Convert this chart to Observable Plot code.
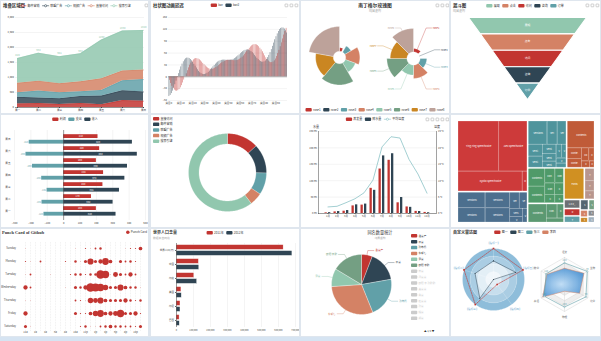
<!DOCTYPE html>
<html><head><meta charset="utf-8">
<script src="https://cdn.jsdelivr.net/npm/d3@7"></script>
<script src="https://cdn.jsdelivr.net/npm/@observablehq/plot@0.6"></script>
<style>
html,body{margin:0;padding:0}
body{width:601px;height:341px;background:#dfe6ee;position:relative;overflow:hidden;font-family:"Noto Sans CJK SC","Noto Sans",sans-serif}
.pn{position:absolute;background:#fff;overflow:hidden}
.pn svg{position:absolute;overflow:visible}
</style></head><body>
<script>
// ---------------- palette ----------------
const P = {red:"#c23531", navy:"#2f4554", teal:"#61a0a8", salmon:"#d48265", mint:"#91c7ae", green:"#749f83", mustard:"#ca8622", taupe:"#bda29a", gray:"#6e7074", slate:"#546570", light:"#c4ccd3"};
const FONT = "'Noto Sans CJK SC','Noto Sans',sans-serif";
const STYLE = {fontSize:"3px", fontFamily:FONT, color:"#444", background:"transparent", overflow:"visible"};

// ---------------- data ----------------
// 1 stacked area
const c1Days = ["周一","周二","周三","周四","周五","周六","周日"];
const c1Series = ["邮件营销","联盟广告","视频广告","直接访问","搜索引擎"];
const c1Mail = [120,132,101,134,90,230,210];
const c1Union = [220,182,191,234,290,330,310];
const c1Video = [150,232,201,154,190,330,410];
const c1Direct = [320,332,301,334,390,330,320];
const c1Search = [820,932,901,934,1290,1330,1320];
const c1YTicks = [0,500,1000,1500,2000,2500,3000];

// 2 bar animation delay
const c2Series = ["bar","bar2"];
const c2Bar = [0,-8.9,-17.0,-24.0,-29.7,-33.7,-36.0,-36.5,-35.3,-32.4,-28.0,-22.4,-15.7,-8.2,-0.4,7.6,15.3,22.6,29.2,34.8,39.4,42.8,45.0,46.0,45.9,44.8,42.9,40.3,37.2,33.9,30.6,27.4,24.6,22.2,20.4,19.3,18.9,19.2,20.1,21.5,23.4,25.7,28.2,30.7,33.2,35.4,37.4,39.1,40.3,41.2,41.7,41.8,41.7,41.4,41.1,40.8,40.8,41.1,41.8,42.9,44.6,46.9,49.7,52.9,56.6,60.5,64.5,68.4,72.1,75.4,78.1,80.1,81.2,81.4,80.5,78.8,76.0,72.4,68.1,63.3,58.0,52.9,47.9,43.5,39.9,37.2,35.8,35.9,37.3,40.4,45.0,51.2,58.5,66.9,76.1,85.9,95.8,105.6,114.5,122.5];
const c2Bar2 = [-50,-47.2,-42.5,-36.3,-28.7,-20.1,-10.9,-1.5,7.9,16.8,25.0,32.1,38.0,42.5,45.6,47.2,47.3,46.1,43.7,40.4,36.3,31.7,26.9,22.2,17.7,13.7,10.4,7.9,6.3,5.6,5.8,6.9,8.8,11.3,14.4,17.9,21.5,25.1,28.7,31.9,34.8,37.2,39.2,40.6,41.5,42.1,42.2,42.2,42.0,41.8,41.7,41.8,42.2,43.0,44.2,45.9,47.9,50.3,52.9,55.6,58.4,61.1,63.5,65.5,67.0,67.8,67.9,67.3,65.9,63.8,61.1,57.9,54.2,50.5,46.8,43.5,40.6,38.5,37.2,36.9,37.9,40.2,43.7,48.4,54.2,61.2,68.8,77.0,85.3,93.7,101.4,108.6,114.6,119.2,122.3,123.7,123.2,120.8,116.7,110.8];
const c2Cats = c2Bar.map((_, i) => "类目" + i);
const c2YTicks = [-60,-30,0,30,60,90,120,150];
const c2XTicks = ["类目0","类目10","类目20","类目30","类目40","类目50","类目60","类目70","类目80","类目90"];

// 3 nightingale rose
const c3Names = ["rose1","rose2","rose3","rose4","rose5","rose6","rose7","rose8"];
const c3Values = [10,5,15,25,20,35,30,40];

// 4 funnel
const c4Names = ["展现","点击","访问","咨询","订单"];
const c4Values = [100,80,60,40,20];

// 5 positive/negative bars
const c5Days = ["周一","周二","周三","周四","周五","周六","周日"];
const c5Profit = [200,170,240,244,200,220,210];
const c5Income = [320,302,341,374,390,450,420];
const c5Expense = [-120,-132,-101,-134,-190,-230,-210];
const c5XTicks = [-300,-200,-100,0,100,200,300,400,500];

// 6 donut
const c6Names = ["直接访问","邮件营销","联盟广告","视频广告","搜索引擎"];
const c6Values = [335,310,234,135,1548];

// 7 rain / evaporation / temperature
const c7Months = ["1月","2月","3月","4月","5月","6月","7月","8月","9月","10月","11月","12月"];
const c7Evap = [2.0,4.9,7.0,23.2,25.6,76.7,135.6,162.2,32.6,20.0,6.4,3.3];
const c7Rain = [2.6,5.9,9.0,26.4,28.7,70.7,175.6,182.2,48.7,18.8,6.0,2.3];
const c7Temp = [2.0,2.2,3.3,4.5,6.3,10.2,20.3,23.4,23.0,16.5,12.0,6.2];
const c7YTicks = [0,50,100,150,200,250];

// 8 treemap (group, label, size)
const c8Group = ["A","A","A","A","B","B","B","B","B","B","B","B","B","C","C","C","C","C","C","C","C","C","C","C","C","D","D","D","D","D","D","D","E","E","E","E","E","E","E","E","F","F","F","F","G","H","H","H","I","J","K","L","M","N","O","P","Q"];
const c8Label = ["Ting-Ting SpeechVoice","Alex SpeechVoice","Kyoko SpeechVoice","Other","Versions","Versions","Versions","Versions","Versions","Versions","Versions","V","V","Versions","Versions","Versions","Versions","Versions","Versions","Versions","Versions","Versions","V","V","V","Contents","Contents","Contents","Contents","C","C","C","Contents","Contents","Contents","Contents","Contents","C","C","C","Contents","Contents","C","C","Fonts","T","T","T","1.8.0_Home","R","T","s","s","s","s","s","s"];
const c8Size = [1920,1340,1200,90,400,380,360,340,150,120,100,70,60,420,230,200,160,150,120,100,80,70,60,50,40,700,150,120,90,70,50,30,280,260,140,120,110,100,80,70,330,150,90,70,575,120,100,80,132,108,100,80,60,50,40,40,40];
const c8Groups = ["A","B","C","D","E","F","G","H","I","J","K","L","M","N","O","P","Q"];
const c8Colors = ["#cd3a3a","#4c6f8e","#4f949c","#c05b38","#4f9a69","#5b9972","#d09022","#b8968e","#6e7074","#c23531","#61a0a8","#546570","#749f83","#d48265","#ca8622","#8a8c90","#9fb0bd"];

// 9 punch card
const c9Hours = ["12a","1a","2a","3a","4a","5a","6a","7a","8a","9a","10a","11a","12p","1p","2p","3p","4p","5p","6p","7p","8p","9p","10p","11p"];
const c9Days = ["Saturday","Friday","Thursday","Wednesday","Tuesday","Monday","Sunday"];
const c9Data = [[0,0,5],[0,1,1],[0,2,0],[0,3,0],[0,4,0],[0,5,0],[0,6,0],[0,7,0],[0,8,0],[0,9,0],[0,10,0],[0,11,2],[0,12,4],[0,13,1],[0,14,1],[0,15,3],[0,16,4],[0,17,6],[0,18,4],[0,19,4],[0,20,3],[0,21,3],[0,22,2],[0,23,5],[1,0,7],[1,1,0],[1,2,0],[1,3,0],[1,4,0],[1,5,0],[1,6,0],[1,7,0],[1,8,0],[1,9,0],[1,10,5],[1,11,2],[1,12,2],[1,13,6],[1,14,9],[1,15,11],[1,16,6],[1,17,7],[1,18,8],[1,19,12],[1,20,5],[1,21,5],[1,22,7],[1,23,2],[2,0,1],[2,1,1],[2,2,0],[2,3,0],[2,4,0],[2,5,0],[2,6,0],[2,7,0],[2,8,0],[2,9,0],[2,10,3],[2,11,2],[2,12,1],[2,13,9],[2,14,8],[2,15,10],[2,16,6],[2,17,5],[2,18,5],[2,19,5],[2,20,7],[2,21,4],[2,22,2],[2,23,4],[3,0,7],[3,1,3],[3,2,0],[3,3,0],[3,4,0],[3,5,0],[3,6,0],[3,7,0],[3,8,1],[3,9,0],[3,10,5],[3,11,4],[3,12,7],[3,13,14],[3,14,13],[3,15,12],[3,16,9],[3,17,5],[3,18,5],[3,19,10],[3,20,6],[3,21,4],[3,22,4],[3,23,1],[4,0,1],[4,1,3],[4,2,0],[4,3,0],[4,4,0],[4,5,1],[4,6,0],[4,7,0],[4,8,0],[4,9,2],[4,10,4],[4,11,4],[4,12,2],[4,13,4],[4,14,4],[4,15,14],[4,16,12],[4,17,1],[4,18,8],[4,19,5],[4,20,3],[4,21,7],[4,22,3],[4,23,0],[5,0,2],[5,1,1],[5,2,0],[5,3,3],[5,4,0],[5,5,0],[5,6,0],[5,7,0],[5,8,2],[5,9,0],[5,10,4],[5,11,1],[5,12,5],[5,13,10],[5,14,5],[5,15,7],[5,16,11],[5,17,6],[5,18,0],[5,19,5],[5,20,3],[5,21,4],[5,22,2],[5,23,0],[6,0,1],[6,1,0],[6,2,0],[6,3,0],[6,4,0],[6,5,0],[6,6,0],[6,7,0],[6,8,0],[6,9,0],[6,10,1],[6,11,0],[6,12,2],[6,13,1],[6,14,3],[6,15,4],[6,16,0],[6,17,0],[6,18,0],[6,19,0],[6,20,1],[6,21,2],[6,22,2],[6,23,6]];
const c9XTicks = ["12a","2a","4a","6a","8a","10a","12p","2p","4p","6p","8p","10p"];

// 10 world population
const c10Cats = ["巴西","印尼","美国","印度","中国","世界人口(万)"];
const c10Y2011 = [18203,23489,29034,104970,131744,630230];
const c10Y2012 = [19325,23438,31000,121594,134141,681807];
const c10XTicks = [0,100000,200000,300000,400000,500000,600000,700000];

// 11 pie with scroll legend
const c11Names = ["潘某产","平某","孙布托","东郭七","尹某","欧阳 宇鹏","苏某","冯某某","欧阳 宇 孙鹏鹏","黄某某","鲁某","赵某某","孙某","殷某","郑某"];
const c11Values = [21,59,78,108,35,59];

// 12 radar
const c12aNames = ["指标一","指标二","指标三","指标四","指标五"];
const c12aMin = [0,0,0,-100,0];
const c12aMax = [100,8,0.4,0,2000];
const c12aS1 = [100,8,0.40,-80,2000];
const c12aS2 = [60,5,0.30,-100,1500];
const c12bNames = ["语文","数学","英语","物理","化学","生物"];
const c12bMax = [150,150,150,120,108,72];
const c12bZhang = [120,118,130,100,99,70];
const c12bLi = [90,113,140,30,70,60];

// ---------------- helpers ----------------
const COLS=[1,151,301,451], ROWS=[1,115,229], W=[147,148,148,149], H=[112,112,107];
function panel(c,r){const d=document.createElement("div");d.className="pn";Object.assign(d.style,{left:COLS[c]+"px",top:ROWS[r]+"px",width:W[c]+"px",height:H[r]+"px"});d._w=W[c];d._h=H[r];document.body.appendChild(d);return d;}
function add(pn,svg,x=0,y=0){svg.style.left=x+"px";svg.style.top=y+"px";pn.appendChild(svg);return svg;}
function overlay(pn){return d3.select(pn).append("svg").attr("width",pn._w).attr("height",pn._h).style("left","0px").style("top","0px").style("font-family",FONT);}
function T(ov,s,x,y,o={}){return ov.append("text").attr("x",x).attr("y",y).attr("dy","0.82em").attr("font-size",o.size||3).attr("font-weight",o.weight||null)
  .attr("fill",o.fill||"#333").attr("text-anchor",o.anchor||"start").attr("font-family",o.family||null).text(s);}
function LG(ov,names,colors,x,y,o={}){
  const g=ov.append("g");const size=o.size||3,gap=o.gap??2.5;let cx=0,cy=0;
  names.forEach((n,i)=>{const it=g.append("g").attr("transform",`translate(${cx},${cy})`);
    const t=(o.types||[])[i],c=colors[i];let sw;
    if(t==="line"){sw=7;it.append("line").attr("x1",0).attr("x2",sw).attr("y1",1.75).attr("y2",1.75).attr("stroke",c).attr("stroke-width",0.6);
      it.append("circle").attr("cx",sw/2).attr("cy",1.75).attr("r",1.1).attr("fill","#fff").attr("stroke",c).attr("stroke-width",0.6);}
    else if(t==="dot"){sw=3.5;it.append("circle").attr("cx",1.75).attr("cy",1.75).attr("r",1.75).attr("fill",c);}
    else{sw=6.25;it.append("rect").attr("width",sw).attr("height",3.5).attr("rx",0.9).attr("fill",c);}
    const tx=it.append("text").attr("x",sw+1.25).attr("y",1.75).attr("dy","0.36em").attr("font-size",size).attr("fill",(o.textColors||[])[i]||"#333").text(n);
    const w=sw+1.25+tx.node().getComputedTextLength();
    if(o.vertical)cy+=o.step||5.9;else cx+=w+gap;});
  const total=o.vertical?0:cx-gap;
  const x0=o.anchor==="center"?x-total/2:o.anchor==="end"?x-total:x;
  g.attr("transform",`translate(${x0},${y})`);return g;}
function tools(ov,x,n){for(let k=0;k<n;k++){ov.append("rect").attr("x",x-k*5-3).attr("y",3).attr("width",2.8).attr("height",2.8).attr("rx",0.5).attr("fill","none").attr("stroke","#8a8a8a").attr("stroke-width",0.4);}}
function arcPts(id,a0,a1,r0,r1){const n=Math.max(2,Math.ceil(Math.abs(a1-a0)/0.03));const pts=[];
  for(let k=0;k<=n;k++){const a=a0+(a1-a0)*k/n;pts.push({id,x:r1*Math.sin(a),y:r1*Math.cos(a)});}
  for(let k=n;k>=0;k--){const a=a0+(a1-a0)*k/n;pts.push({id,x:r0*Math.sin(a),y:r0*Math.cos(a)});}
  pts.push({...pts[0]});return pts;}
function geoPlot(S,D,marks,color){return Plot.plot({width:S,height:S,margin:0,x:{domain:[-D,D],axis:null},y:{domain:[-D,D],axis:null},color,style:STYLE,marks});}

// ================= Chart 1 : stacked area =================
(function(){
  const pn=panel(0,0);
  const vals=[c1Mail,c1Union,c1Video,c1Direct,c1Search];
  const long=c1Series.flatMap((s,si)=>c1Days.map((d,i)=>({s,d,v:vals[si][i]})));
  add(pn,Plot.plot({width:147,height:112,marginLeft:14,marginRight:4,marginTop:16,marginBottom:6,style:STYLE,
    x:{type:"point",domain:c1Days,padding:0},y:{domain:[0,3000]},
    color:{domain:c1Series,range:[P.red,P.navy,P.teal,P.salmon,P.mint]},
    marks:[
      Plot.gridY({ticks:c1YTicks,stroke:"#e4e4e4",strokeOpacity:1,strokeWidth:0.4}),
      Plot.axisY({ticks:c1YTicks,tickSize:0,tickPadding:1.5,fontSize:2.6,label:null}),
      Plot.areaY(long,{x:"d",y:"v",fill:"s",fillOpacity:0.85}),
      Plot.lineY(long,Plot.stackY2({x:"d",y:"v",z:"s",stroke:"s",strokeWidth:0.5})),
      Plot.text(long,Plot.stackY2({x:"d",y:"v",z:"s",text:d=>d.s==="搜索引擎"?String(d.v):"",dy:-3,fill:P.mint,fontSize:2.6})),
      Plot.ruleY([0],{stroke:"#333",strokeWidth:0.5}),
      Plot.axisX({tickSize:1,tickPadding:1,fontSize:2.6,label:null})
    ]}));
  const ov=overlay(pn);
  T(ov,"堆叠区域图",2,2,{size:4.4,weight:"bold"});
  LG(ov,c1Series,[P.red,P.navy,P.teal,P.salmon,P.mint],74,3,{types:c1Series.map(()=>"line"),anchor:"center"});
  tools(ov,147,1);
})();

// ================= Chart 2 : bar animation delay =================
(function(){
  const pn=panel(1,0);
  const keys=c2Cats.flatMap(c=>c2Series.map(s=>c+"|"+s));
  const long=c2Cats.flatMap((c,i)=>[{k:c+"|bar",s:"bar",v:c2Bar[i]},{k:c+"|bar2",s:"bar2",v:c2Bar2[i]}]);
  add(pn,Plot.plot({width:148,height:112,marginLeft:17,marginRight:12,marginTop:16,marginBottom:13,style:STYLE,
    x:{type:"band",domain:keys,padding:0.12},y:{domain:[-60,150]},
    color:{domain:c2Series,range:[P.red,P.navy]},
    marks:[
      Plot.gridY({ticks:c2YTicks,stroke:"#e4e4e4",strokeOpacity:1,strokeWidth:0.4}),
      Plot.axisY({ticks:c2YTicks,tickSize:0,tickPadding:1.5,fontSize:2.6,label:null}),
      Plot.barY(long,{x:"k",y:"v",fill:"s",fillOpacity:0.8}),
      Plot.ruleY([0],{stroke:"#555",strokeWidth:0.4}),
      Plot.axisX({ticks:c2XTicks.map(c=>c+"|bar"),tickFormat:k=>k.split("|")[0],tickSize:0,tickPadding:2,fontSize:2.6,label:null})
    ]}));
  const ov=overlay(pn);
  T(ov,"柱状图动画延迟",2,2,{size:4.4,weight:"bold"});
  LG(ov,c2Series,[P.red,P.navy],74,2.5,{anchor:"center"});
  tools(ov,147,3);
})();

// ================= Chart 3 : nightingale rose =================
(function(){
  const pn=panel(2,0);
  const cols=[P.red,P.navy,P.teal,P.salmon,P.mint,P.green,P.mustard,P.taupe];
  const color={domain:c3Names,range:cols};
  const mn=d3.min(c3Values),mx=d3.max(c3Values),sum=d3.sum(c3Values);
  const rr=(v,r0)=>r0+(1-r0)*(v-mn)/(mx-mn);
  let acc=0;
  const left=c3Names.flatMap((n,i)=>{const a0=acc/sum*2*Math.PI;acc+=c3Values[i];const a1=acc/sum*2*Math.PI;return arcPts(n,a0,a1,0.2,rr(c3Values[i],0.2));});
  add(pn,geoPlot(80,40/31,[Plot.line(left,{x:"x",y:"y",z:"id",fill:"id",stroke:"#fff",strokeWidth:0.3})],color),-2,16);
  const step=2*Math.PI/c3Names.length;
  const right=c3Names.flatMap((n,i)=>arcPts(n,i*step,(i+1)*step,0.22,rr(c3Values[i],0.22)));
  const leaders=[],labs=[];
  c3Names.forEach((n,i)=>{const am=(i+0.5)*step,r=rr(c3Values[i],0.22);const sx=Math.sin(am),sy=Math.cos(am);const sg=sx>=0?1:-1;
    const er=sg>0?Math.min(1.1,0.7/Math.abs(sx)):1.1;
    const ex=er*sx,ey=er*sy;leaders.push({id:n,x:r*sx,y:r*sy},{id:n,x:ex,y:ey},{id:n,x:ex+sg*0.18,y:ey});
    labs.push({n,x:ex+sg*0.22,y:ey,side:sg});});
  add(pn,geoPlot(100,50/30,[
    Plot.line(right,{x:"x",y:"y",z:"id",fill:"id",stroke:"#fff",strokeWidth:0.3}),
    Plot.line(leaders,{x:"x",y:"y",z:"id",stroke:"id",strokeWidth:0.35}),
    Plot.text(labs.filter(d=>d.side>0),{x:"x",y:"y",text:"n",fill:"n",textAnchor:"start",fontSize:2.6}),
    Plot.text(labs.filter(d=>d.side<0),{x:"x",y:"y",text:"n",fill:"n",textAnchor:"end",fontSize:2.6})
  ],color),62,7);
  const ov=overlay(pn);
  T(ov,"南丁格尔玫瑰图",74,2,{size:4.8,weight:"bold",anchor:"middle"});
  T(ov,"纯属虚构",74,8.5,{size:3,fill:"#aaa",anchor:"middle"});
  LG(ov,c3Names,cols,74,107,{anchor:"center"});
  tools(ov,148,3);
})();

// ================= Chart 4 : funnel =================
(function(){
  const pn=panel(3,0);
  const cols=[P.mint,P.salmon,P.red,P.navy,P.teal];
  const poly=c4Names.flatMap((n,i)=>{const a=c4Values[i],b=i+1<c4Values.length?c4Values[i+1]:0;
    return [{n,x:-a/2,y:i},{n,x:a/2,y:i},{n,x:b/2,y:i+1},{n,x:-b/2,y:i+1},{n,x:-a/2,y:i}];});
  add(pn,Plot.plot({width:149,height:112,marginLeft:17,marginRight:14,marginTop:16,marginBottom:14,style:STYLE,
    x:{domain:[-50,50],axis:null},y:{domain:[0,c4Names.length],reverse:true,axis:null},
    color:{domain:c4Names,range:cols},
    marks:[
      Plot.line(poly,{x:"x",y:"y",z:"n",fill:"n",stroke:"#fff",strokeWidth:1.1}),
      Plot.text(c4Names,{x:0,y:(d,i)=>i+0.45,text:d=>d,fill:"#fff",fontSize:2.8})
    ]}));
  const ov=overlay(pn);
  T(ov,"漏斗图",2,2,{size:4.4,weight:"bold"});
  T(ov,"纯属虚构",2,9,{size:3,fill:"#aaa"});
  LG(ov,c4Names,cols,74,3,{anchor:"center"});
  tools(ov,148,3);
})();

// ================= Chart 5 : positive / negative bars =================
(function(){
  const pn=panel(0,1);
  const prof=c5Days.map((d,i)=>({d,v:c5Profit[i]}));
  const ie=c5Days.flatMap((d,i)=>[{d,s:"收入",v:c5Income[i]},{d,s:"支出",v:c5Expense[i]}]);
  add(pn,Plot.plot({width:147,height:112,marginLeft:13,marginRight:3,marginTop:15,marginBottom:7,style:STYLE,
    x:{domain:[-300,500]},y:{type:"band",domain:[...c5Days].reverse(),padding:0},
    color:{domain:["利润","支出","收入"],range:[P.red,P.teal,P.navy]},
    marks:[
      Plot.gridX({ticks:c5XTicks,stroke:"#e4e4e4",strokeOpacity:1,strokeWidth:0.4}),
      Plot.axisX({ticks:c5XTicks,tickSize:0,tickPadding:1.5,fontSize:2.6,label:null}),
      Plot.axisY({tickSize:0,tickPadding:4,fontSize:2.6,label:null}),
      Plot.barX(prof,{x:"v",y:"d",fill:P.red,insetTop:1.2,insetBottom:7}),
      Plot.barX(ie,{x:"v",y:"d",fill:"s",insetTop:6.8,insetBottom:1.4}),
      Plot.ruleX([0],{stroke:"#444",strokeWidth:0.5}),
      Plot.text(prof,{x:d=>d.v/2,y:"d",text:"v",fill:"#fff",dy:-2.9,fontSize:2.4}),
      Plot.text(ie.filter(d=>d.s==="收入"),{x:d=>d.v/2,y:"d",text:"v",fill:"#fff",dy:2.7,fontSize:2.4}),
      Plot.text(ie.filter(d=>d.s==="支出"),{x:"v",y:"d",text:"v",fill:P.teal,dy:2.7,dx:-1,textAnchor:"end",fontSize:2.4})
    ]}));
  const ov=overlay(pn);
  LG(ov,["利润","支出","收入"],[P.red,P.teal,P.navy],74,2.5,{anchor:"center"});
})();

// ================= Chart 6 : donut =================
(function(){
  const pn=panel(1,1);
  const cols=[P.red,P.navy,P.teal,P.salmon,P.mint];
  const sum=d3.sum(c6Values);let acc=0;
  const pts=c6Names.flatMap((n,i)=>{const a0=acc/sum*2*Math.PI;acc+=c6Values[i];const a1=acc/sum*2*Math.PI;return arcPts(n,a0,a1,0.73,1);});
  add(pn,geoPlot(84,42/39,[Plot.line(pts,{x:"x",y:"y",z:"id",fill:"id",stroke:"#fff",strokeWidth:0.2})],{domain:c6Names,range:cols}),34,15);
  const ov=overlay(pn);
  LG(ov,c6Names,cols,2,2,{vertical:true,step:5.6});
})();

// ================= Chart 7 : rain / evaporation =================
(function(){
  const pn=panel(2,1);
  add(pn,Plot.plot({width:148,height:112,marginLeft:17,marginRight:13,marginTop:16,marginBottom:14,style:STYLE,
    x:{type:"band",domain:c7Months,padding:0},y:{domain:[0,250]},
    marks:[
      Plot.gridY({ticks:c7YTicks,stroke:"#e4e4e4",strokeOpacity:1,strokeWidth:0.4}),
      Plot.axisY({ticks:c7YTicks,tickFormat:d=>d+" ml",tickSize:0,tickPadding:1.5,fontSize:2.5,label:null}),
      Plot.axisY({anchor:"right",ticks:c7YTicks,tickFormat:d=>(d/10)+" °C",tickSize:0,tickPadding:1.5,fontSize:2.5,label:null}),
      Plot.barY(c7Months,{x:d=>d,y:(d,i)=>c7Evap[i],fill:P.red,insetLeft:1.5,insetRight:5.2}),
      Plot.barY(c7Months,{x:d=>d,y:(d,i)=>c7Rain[i],fill:P.navy,insetLeft:5.0,insetRight:1.7}),
      Plot.line(c7Months,{x:d=>d,y:(d,i)=>c7Temp[i]*10,stroke:"#8cc3c6",strokeWidth:0.8}),
      Plot.frame({anchor:"left",stroke:"#444",strokeWidth:0.5}),
      Plot.frame({anchor:"right",stroke:"#444",strokeWidth:0.5}),
      Plot.ruleY([0],{stroke:"#444",strokeWidth:0.5}),
      Plot.axisX({tickSize:1,tickPadding:1,fontSize:2.5,label:null})
    ]}));
  const ov=overlay(pn);
  LG(ov,["蒸发量","降水量","平均温度"],[P.red,P.navy,"#8cc3c6"],74,2.5,{anchor:"center",types:["rect","rect","line"]});
  T(ov,"水量",12,10.5,{size:3});
  T(ov,"温度",136,10.5,{size:3,anchor:"middle"});
  tools(ov,148,5);
})();

// ================= Chart 8 : treemap =================
(function(){
  const pn=panel(3,1);
  const TW=136,TH=101;
  const tree={children:c8Groups.map(g=>({g,children:c8Label.map((l,i)=>({g:c8Group[i],l,value:c8Size[i]})).filter(d=>d.g===g)}))};
  const root=d3.hierarchy(tree).sum(d=>d.value||0).sort((a,b)=>b.value-a.value);
  d3.treemap().size([TW,TH]).paddingInner(n=>n.depth===0?1.6:0.45).tile(d3.treemapSquarify)(root);
  const leaves=root.leaves().map(n=>({g:n.data.g,l:n.data.l,x0:n.x0,x1:n.x1,y0:n.y0,y1:n.y1}));
  const groups=root.children.map(n=>({g:n.data.g,x0:n.x0,x1:n.x1,y0:n.y0,y1:n.y1}));
  const short=d=>{const w=d.x1-d.x0,h=d.y1-d.y0;if(h<4)return "";const fit=Math.floor((w-1.5)/1.6);if(fit<1)return "";return d.l.length<=fit?d.l:(fit>4?d.l.slice(0,fit-2)+"..":d.l.slice(0,Math.max(1,fit-1)));};
  add(pn,Plot.plot({width:149,height:112,marginLeft:7,marginRight:6,marginTop:6,marginBottom:5,style:STYLE,
    x:{domain:[0,TW],axis:null},y:{domain:[0,TH],reverse:true,axis:null},
    color:{domain:c8Groups,range:c8Colors},
    marks:[
      Plot.rect(groups,{x1:"x0",x2:"x1",y1:"y0",y2:"y1",fill:"g"}),
      Plot.rect(leaves,{x1:"x0",x2:"x1",y1:"y0",y2:"y1",fill:"g",stroke:"rgba(255,255,255,0.55)",strokeWidth:0.4}),
      Plot.text(leaves,{x:d=>(d.x0+d.x1)/2,y:d=>(d.y0+d.y1)/2,text:short,fill:"#fff",fontSize:2.4})
    ]}));
})();

// ================= Chart 9 : punch card =================
(function(){
  const pn=panel(0,2);
  const pts=c9Data.map(([d,h,v])=>({day:c9Days[d],hour:c9Hours[h],v}));
  add(pn,Plot.plot({width:147,height:107,marginLeft:17,marginRight:1,marginTop:19,marginBottom:10,style:STYLE,
    x:{type:"point",domain:c9Hours,padding:0},y:{type:"point",domain:[...c9Days].reverse(),padding:0},
    r:{type:"linear",domain:[0,14],range:[0,4.3]},
    marks:[
      Plot.ruleX(c9Hours,{x:d=>d,stroke:"#d8d8d8",strokeWidth:0.4,strokeDasharray:"0.8,0.8",insetTop:-6,insetBottom:-5}),
      Plot.axisY({tickSize:0,tickPadding:2.5,fontSize:2.8,label:null}),
      Plot.axisX({ticks:c9XTicks,tickSize:0,tickPadding:5,fontSize:2.6,label:null}),
      Plot.dot(pts.filter(d=>d.v>0),{x:"hour",y:"day",r:"v",fill:P.red,stroke:"none"})
    ]}));
  const ov=overlay(pn);
  T(ov,"Punch Card of Github",1,1,{size:4.4,weight:"bold",family:"'Liberation Serif',serif"});
  LG(ov,["Punch Card"],[P.red],146,1.5,{types:["dot"],anchor:"end"});
})();

// ================= Chart 10 : world population =================
(function(){
  const pn=panel(1,2);
  const long=c10Cats.flatMap((c,i)=>[{c,s:"2011年",v:c10Y2011[i]},{c,s:"2012年",v:c10Y2012[i]}]);
  add(pn,Plot.plot({width:148,height:107,marginLeft:25,marginRight:4,marginTop:14,marginBottom:9,style:STYLE,
    x:{domain:[0,700000]},y:{type:"band",domain:[...c10Cats].reverse(),padding:0},
    color:{domain:["2011年","2012年"],range:[P.red,P.navy]},
    marks:[
      Plot.gridX({ticks:c10XTicks,stroke:"#e4e4e4",strokeOpacity:1,strokeWidth:0.4}),
      Plot.axisX({ticks:c10XTicks,tickSize:0,tickPadding:1.5,fontSize:2.3,label:null}),
      Plot.axisY({tickSize:1,tickPadding:1.5,fontSize:2.5,label:null}),
      Plot.barX(long.filter(d=>d.s==="2011年"),{x:"v",y:"c",fill:"s",stroke:"#fff",strokeWidth:0.4,insetTop:1.6,insetBottom:7.6}),
      Plot.barX(long.filter(d=>d.s==="2012年"),{x:"v",y:"c",fill:"s",stroke:"#fff",strokeWidth:0.4,insetTop:7.6,insetBottom:1.6}),
      Plot.ruleX([0],{stroke:"#444",strokeWidth:0.5})
    ]}));
  const ov=overlay(pn);
  T(ov,"世界人口总量",2,2,{size:4,weight:"bold"});
  T(ov,"数据来自网络",2,8,{size:2.8,fill:"#aaa"});
  LG(ov,["2011年","2012年"],[P.red,P.navy],74,2,{anchor:"center"});
})();

// ================= Chart 11 : pie with scroll legend =================
(function(){
  const pn=panel(2,2);
  const cols=[P.red,P.navy,P.teal,P.salmon,P.mint,P.green];
  const shown=c11Names.slice(0,c11Values.length);
  const sum=d3.sum(c11Values);let acc=0;const pts=[],leaders=[],labs=[];
  shown.forEach((n,i)=>{const a0=acc/sum*2*Math.PI;acc+=c11Values[i];const a1=acc/sum*2*Math.PI;pts.push(...arcPts(n,a0,a1,0,1));
    const am=(a0+a1)/2,sx=Math.sin(am),sy=Math.cos(am),sg=sx>=0?1:-1;
    leaders.push({id:n,x:sx,y:sy},{id:n,x:1.15*sx,y:1.15*sy},{id:n,x:1.15*sx+sg*0.2,y:1.15*sy});
    labs.push({n,x:1.15*sx+sg*0.25,y:1.15*sy,side:sg});});
  add(pn,geoPlot(70,35/30,[
    Plot.line(pts,{x:"x",y:"y",z:"id",fill:"id",stroke:"#fff",strokeWidth:0.3}),
    Plot.line(leaders,{x:"x",y:"y",z:"id",stroke:"id",strokeWidth:0.35}),
    Plot.text(labs.filter(d=>d.side>0),{x:"x",y:"y",text:"n",fill:"n",textAnchor:"start",fontSize:2.6}),
    Plot.text(labs.filter(d=>d.side<0),{x:"x",y:"y",text:"n",fill:"n",textAnchor:"end",fontSize:2.6})
  ],{domain:shown,range:cols}),25,20);
  const ov=overlay(pn);
  T(ov,"同名数量统计",79,1.5,{size:4.2,anchor:"middle"});
  T(ov,"纯属虚构",79,7.5,{size:2.8,fill:"#aaa",anchor:"middle"});
  LG(ov,c11Names,c11Names.map((n,i)=>i<cols.length?cols[i]:"#ccc"),110,5,{vertical:true,step:5.9,size:2.6,textColors:c11Names.map((n,i)=>i<cols.length?"#333":"#ccc")});
  T(ov,"▲ 1/4 ▼",123,100.5,{size:2.6});
})();

// ================= Chart 12 : custom radar =================
(function(){
  const pn=panel(3,2);
  const n5=c12aNames.length;
  const ang=(k,n)=>-k*2*Math.PI/n;
  const rings=[0,1,2,3].map(k=>arcPts("r"+k,0,2*Math.PI,k/4,(k+1)/4));
  const ringCols=["rgba(114,172,209,0.2)","rgba(114,172,209,0.4)","rgba(114,172,209,0.6)","rgba(114,172,209,0.8)"];
  const circles=[1,2,3,4].flatMap(k=>d3.range(0,121).map(j=>({id:"c"+k,x:k/4*Math.sin(j/120*2*Math.PI),y:k/4*Math.cos(j/120*2*Math.PI)})));
  const spokes=c12aNames.map((n,k)=>({x:Math.sin(ang(k,n5)),y:Math.cos(ang(k,n5))}));
  const norm=(v,k)=>(v-c12aMin[k])/(c12aMax[k]-c12aMin[k]);
  const poly=(vals,id)=>{const p=vals.map((v,k)=>({id,x:norm(v,k)*Math.sin(ang(k,n5)),y:norm(v,k)*Math.cos(ang(k,n5))}));return [...p,{...p[0]}];};
  const s1=poly(c12aS1,"图一"),s2=poly(c12aS2,"图二");
  const labsA=c12aNames.map((n,k)=>({t:"【"+n+"】",x:1.18*Math.sin(ang(k,n5)),y:1.18*Math.cos(ang(k,n5))}));
  add(pn,geoPlot(90,45/31,[
    ...rings.map((r,k)=>Plot.line(r,{x:"x",y:"y",fill:ringCols[k],stroke:"none"})),
    Plot.line(circles,{x:"x",y:"y",z:"id",stroke:"rgba(255,255,255,0.5)",strokeWidth:0.4}),
    Plot.link(spokes,{x1:0,y1:0,x2:"x",y2:"y",stroke:"rgba(255,255,255,0.5)",strokeWidth:0.4}),
    Plot.line(s2,{x:"x",y:"y",fill:"rgba(255,255,255,0.5)",stroke:P.navy,strokeWidth:0.5}),
    Plot.line(s1,{x:"x",y:"y",stroke:P.red,strokeWidth:0.6,strokeDasharray:"1.5,1"}),
    Plot.dot(s1.slice(0,n5),{x:"x",y:"y",symbol:"square",r:0.9,fill:P.red}),
    Plot.dot(s2.slice(0,n5),{x:"x",y:"y",r:0.6,fill:P.navy}),
    Plot.text(labsA,{x:"x",y:"y",text:"t",fill:"#72acd1",fontSize:2.6})
  ]),-3,5);
  const n6=c12bNames.length;
  const hex=(r)=>d3.range(0,n6+1).map(k=>({x:r*Math.sin(ang(k%n6,n6)),y:r*Math.cos(ang(k%n6,n6))}));
  const areas=[0,1,2,3,4].map(k=>{const o=hex((k+1)/5),i=hex(k/5).reverse();return [...o,...i];});
  const areaCols=["rgba(250,250,250,0.3)","rgba(200,200,200,0.3)"];
  const rad=(vals)=>{const p=vals.map((v,k)=>({v,x:v/c12bMax[k]*Math.sin(ang(k,n6)),y:v/c12bMax[k]*Math.cos(ang(k,n6))}));return [...p,{...p[0]}];};
  const zh=rad(c12bZhang),li=rad(c12bLi);
  const spokesB=c12bNames.map((n,k)=>({x:Math.sin(ang(k,n6)),y:Math.cos(ang(k,n6))}));
  const labsB=c12bNames.map((n,k)=>({t:n,x:1.2*Math.sin(ang(k,n6)),y:1.2*Math.cos(ang(k,n6))}));
  const svgB=geoPlot(90,45/27,[
    ...areas.map((a,k)=>Plot.line(a,{x:"x",y:"y",fill:areaCols[k%2],stroke:"none"})),
    ...[1,2,3,4,5].map(k=>Plot.line(hex(k/5),{x:"x",y:"y",stroke:"#ccc",strokeWidth:0.4})),
    Plot.link(spokesB,{x1:0,y1:0,x2:"x",y2:"y",stroke:"#ccc",strokeWidth:0.4}),
    Plot.line(li,{x:"x",y:"y",fill:"url(#liGrad)",stroke:P.salmon,strokeWidth:0.5}),
    Plot.line(zh,{x:"x",y:"y",stroke:P.teal,strokeWidth:0.6}),
    Plot.dot(zh.slice(0,n6),{x:"x",y:"y",r:0.7,fill:"#fff",stroke:P.teal,strokeWidth:0.4}),
    Plot.text(zh.slice(0,n6),{x:"x",y:"y",text:"v",fill:P.teal,dy:-2.3,fontSize:2.3}),
    Plot.text(labsB,{x:"x",y:"y",text:"t",fill:"#666",fontSize:2.6})
  ]);
  const defs=document.createElementNS("http://www.w3.org/2000/svg","defs");
  defs.innerHTML='<radialGradient id="liGrad" cx="0.45" cy="0.55" r="0.6"><stop offset="0" stop-color="rgba(190,220,245,0.95)"/><stop offset="1" stop-color="rgba(80,150,212,0.95)"/></radialGradient>';
  svgB.insertBefore(defs,svgB.firstChild);
  add(pn,svgB,68,10);
  const ov=overlay(pn);
  T(ov,"自定义雷达图",2,1.5,{size:4,weight:"bold"});
  LG(ov,["图一","图二","张三","李四"],[P.red,P.navy,P.teal,P.salmon],74,1.5,{anchor:"center"});
})();

const strip=document.createElement("div");Object.assign(strip.style,{position:"absolute",left:"0",top:"337px",width:"601px",height:"4px",background:"#d6e4f2"});document.body.appendChild(strip);
</script>
</body></html>
